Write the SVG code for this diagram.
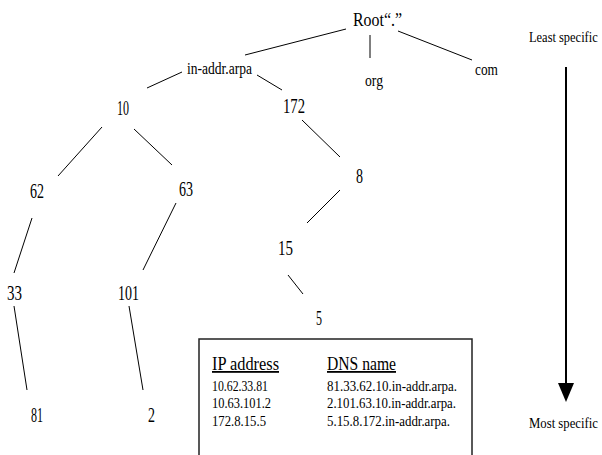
<svg xmlns="http://www.w3.org/2000/svg" width="602" height="455" viewBox="0 0 602 455">
<defs>
<style>
text{font-family:"Liberation Serif","Times New Roman",serif;fill:#000}
.n{font-size:21px}
.t{font-size:16px}
.r{font-size:19px}
.th{font-size:18px}
.tb{font-size:15px}
.s{font-size:15px}
.u{text-decoration:underline}
#connectors line{stroke:#000;stroke-width:1}
</style>
</defs>
<rect width="602" height="455" fill="#fff"/>
<g id="connectors">
<line x1="346" y1="29" x2="245" y2="55"/>
<line x1="370" y1="35" x2="370" y2="58"/>
<line x1="398" y1="31" x2="472" y2="60"/>
<line x1="182" y1="72" x2="147" y2="88"/>
<line x1="257" y1="75" x2="282" y2="90"/>
<line x1="102" y1="127" x2="58" y2="176"/>
<line x1="134" y1="129" x2="172" y2="165"/>
<line x1="302" y1="120" x2="340" y2="157"/>
<line x1="340" y1="190" x2="307" y2="223"/>
<line x1="32" y1="218" x2="14" y2="273"/>
<line x1="176" y1="203" x2="143" y2="270"/>
<line x1="288" y1="275" x2="303" y2="294"/>
<line x1="14" y1="306" x2="27" y2="390"/>
<line x1="129" y1="306" x2="143" y2="390"/>
</g>
<g id="root"><text class="r" x="353" y="26" textLength="49" lengthAdjust="spacingAndGlyphs">Root“.”</text></g>
<g id="in-addr"><text class="t" x="187" y="74" textLength="65" lengthAdjust="spacingAndGlyphs">in-addr.arpa</text></g>
<g id="org"><text class="t" x="365" y="86" textLength="18" lengthAdjust="spacingAndGlyphs">org</text></g>
<g id="com"><text class="t" x="475" y="75" textLength="23" lengthAdjust="spacingAndGlyphs">com</text></g>
<g id="n10"><text class="n" x="117" y="115" textLength="12" lengthAdjust="spacingAndGlyphs">10</text></g>
<g id="n172"><text class="n" x="283" y="113" textLength="22" lengthAdjust="spacingAndGlyphs">172</text></g>
<g id="n8"><text class="n" x="356" y="183" textLength="7" lengthAdjust="spacingAndGlyphs">8</text></g>
<g id="n62"><text class="n" x="30" y="198" textLength="14" lengthAdjust="spacingAndGlyphs">62</text></g>
<g id="n63"><text class="n" x="179" y="196" textLength="14" lengthAdjust="spacingAndGlyphs">63</text></g>
<g id="n15"><text class="n" x="278" y="255" textLength="15" lengthAdjust="spacingAndGlyphs">15</text></g>
<g id="n33"><text class="n" x="7" y="300" textLength="15" lengthAdjust="spacingAndGlyphs">33</text></g>
<g id="n101"><text class="n" x="118" y="300" textLength="21" lengthAdjust="spacingAndGlyphs">101</text></g>
<g id="n5"><text class="n" x="316" y="325" textLength="6" lengthAdjust="spacingAndGlyphs">5</text></g>
<g id="n81"><text class="n" x="31" y="422" textLength="12" lengthAdjust="spacingAndGlyphs">81</text></g>
<g id="n2"><text class="n" x="148" y="422" textLength="7" lengthAdjust="spacingAndGlyphs">2</text></g>
<g id="table">
<rect x="199" y="339" width="273" height="125" fill="none" stroke="#222" stroke-width="1.5"/>
<text class="th u" x="212" y="370" textLength="67" lengthAdjust="spacingAndGlyphs">IP address</text>
<text class="th u" x="327" y="370" textLength="69" lengthAdjust="spacingAndGlyphs">DNS name</text>
<text class="tb" x="212" y="391" textLength="56" lengthAdjust="spacingAndGlyphs">10.62.33.81</text>
<text class="tb" x="212" y="408" textLength="59" lengthAdjust="spacingAndGlyphs">10.63.101.2</text>
<text class="tb" x="212" y="426" textLength="54" lengthAdjust="spacingAndGlyphs">172.8.15.5</text>
<text class="tb" x="327" y="391" textLength="130" lengthAdjust="spacingAndGlyphs">81.33.62.10.in-addr.arpa.</text>
<text class="tb" x="327" y="408" textLength="129" lengthAdjust="spacingAndGlyphs">2.101.63.10.in-addr.arpa.</text>
<text class="tb" x="327" y="426" textLength="123" lengthAdjust="spacingAndGlyphs">5.15.8.172.in-addr.arpa.</text>
</g>
<g id="scale">
<text class="s" transform="translate(529,42) scale(0.83,1)">Least specific</text>
<line x1="566" y1="67" x2="566" y2="386" stroke="#000" stroke-width="2"/>
<polygon points="558,383 574,383 566,402" fill="#000"/>
<text class="s" transform="translate(529,428) scale(0.85,1)">Most specific</text>
</g>
</svg>
